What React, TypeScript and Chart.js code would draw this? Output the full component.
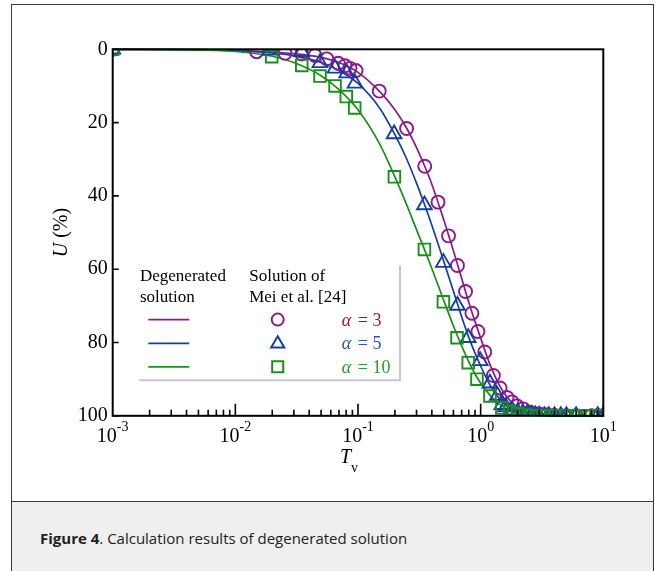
import React, { useEffect, useRef } from "react";
import { Chart, registerables } from "chart.js";

Chart.register(...registerables);

// ---- Degenerated solution (curves) ----
const lineT = [0.001, 0.002, 0.005, 0.01, 0.02, 0.03, 0.05, 0.07, 0.1, 0.15, 0.2, 0.25, 0.3, 0.35, 0.4, 0.5, 0.6, 0.7, 0.8, 0.9, 1.0, 1.2, 1.4, 1.6, 1.8, 2.0, 2.5, 3, 4, 5, 10];
const lineU3 = [0, 0, 0.1, 0.3, 0.8, 1.2, 2.2, 3.6, 6.3, 11.5, 16.5, 21.6, 26.8, 31.9, 36.8, 46.5, 55, 62.5, 69, 74.3, 78.8, 86.3, 91.2, 94.4, 96.4, 97.7, 99.2, 99.7, 100, 100, 100];
const lineU5 = [0, 0, 0.1, 0.4, 1.0, 1.8, 3.6, 5.8, 9.3, 16, 23.3, 30, 36.5, 42.5, 48, 57.8, 66, 73, 78.6, 82.9, 86.4, 91.8, 95.1, 97.1, 98.3, 99, 99.7, 99.9, 100, 100, 100];
const lineU10 = [0, 0.05, 0.2, 0.6, 1.9, 3.6, 7.2, 11, 16.5, 25.8, 34.8, 42.5, 49.2, 54.8, 59.8, 68.5, 75.5, 80.9, 85.2, 88.6, 91.1, 94.5, 96.7, 98, 98.8, 99.2, 99.7, 99.9, 100, 100, 100];

// ---- Solution of Mei et al. [24] (markers) ----
const circT = [0.001, 0.0149, 0.0254, 0.0348, 0.0446, 0.0556, 0.069, 0.0783, 0.0861, 0.0964, 0.149, 0.249, 0.35, 0.449, 0.547, 0.647, 0.753, 0.849, 0.95, 1.08, 1.27, 1.44, 1.64, 1.8, 1.98, 2.22, 2.53, 3.0, 3.5, 4.0, 5.0, 6.0, 8.0, 9.0, 10];
const circU = [0, 0.65, 1.1, 1.3, 1.7, 2.6, 3.8, 4.5, 5.2, 5.8, 11.4, 21.6, 31.9, 41.7, 50.9, 59, 66.1, 72, 77, 82.6, 89, 92.4, 95, 96.2, 97.3, 98.1, 99, 99.5, 99.7, 99.9, 100, 100, 100, 100, 100];

const triT = [0.001, 0.0192, 0.0348, 0.049, 0.065, 0.081, 0.0946, 0.197, 0.348, 0.497, 0.647, 0.792, 0.99, 1.19, 1.37, 1.49, 1.6, 1.8, 2.0, 2.2, 2.4, 2.6, 2.8, 3.0, 3.3, 3.6, 4.0, 4.5, 5.0, 6.0, 9.0, 10];
const triU = [0, 0.3, 0.65, 3.7, 5.2, 6.5, 9.3, 23.1, 42.5, 58.2, 69.9, 78.7, 85, 91.1, 94.5, 97, 97.6, 98.5, 99, 99.3, 99.5, 99.7, 99.8, 99.9, 100, 100, 100, 100, 100, 100, 100, 100];

const sqT = [0.001, 0.0198, 0.0348, 0.049, 0.065, 0.0803, 0.094, 0.198, 0.348, 0.497, 0.642, 0.792, 0.933, 1.19, 1.49, 1.73, 2.0, 2.3, 2.6, 3.0, 3.5, 4.0, 4.5, 5.0, 6.0, 7.0, 8.0, 9.0, 10];
const sqU = [0, 2.0, 4.4, 7.3, 10, 12.9, 16, 34.8, 54.6, 68.9, 78.7, 85.5, 90, 94.6, 97.9, 98.9, 99.4, 99.7, 99.9, 100, 100, 100, 100, 100, 100, 100, 100, 100, 100];

// ---- Axes ----
const xDecades = [0.001, 0.01, 0.1, 1, 10];
const xDecadeExp = ["-3", "-2", "-1", "0", "1"];
const xMinorMult = [2, 3, 4, 5, 6, 7, 8, 9];
const yTicks = [0, 20, 40, 60, 80, 100];

// ---- Legend text ----
const legendLeftHeader = ["Degenerated", "solution"];
const legendMidHeader = ["Solution of", "Mei et al. [24]"];
const alphaValues = ["3", "5", "10"];

const PURPLE = "#8c1a8c";
const BLUE = "#163ea0";
const GREEN = "#18901a";
const SERIES_COLORS = [PURPLE, BLUE, GREEN];
const ALPHA_COLORS = ["#9a1c2c", "#2a52b0", "#2a9a2a"];
const SERIF = '"Liberation Serif", "Times New Roman", serif';

const toXY = (xs: number[], ys: number[]) => xs.map((v, i) => ({ x: v, y: ys[i] }));

function drawMarker(ctx: CanvasRenderingContext2D, style: string, x: number, y: number, r: number) {
  ctx.beginPath();
  if (style === "circle") {
    ctx.arc(x, y, r, 0, Math.PI * 2);
  } else if (style === "triangle") {
    const h = r * 1.5;
    const s = r * Math.sqrt(3);
    ctx.moveTo(x, y - r);
    ctx.lineTo(x + s / 2, y - r + h);
    ctx.lineTo(x - s / 2, y - r + h);
    ctx.closePath();
  } else {
    const a = r * Math.SQRT1_2;
    ctx.rect(x - a, y - a, 2 * a, 2 * a);
  }
  ctx.stroke();
}

const decorPlugin = {
  id: "decor",
  afterDraw(chart: any) {
    const { ctx, chartArea: ca } = chart;
    const x = chart.scales.x;
    const y = chart.scales.y;
    ctx.save();

    // plot frame
    ctx.strokeStyle = "#000";
    ctx.lineWidth = 2;
    ctx.strokeRect(ca.left, ca.top, ca.right - ca.left, ca.bottom - ca.top);

    // x ticks (inward)
    ctx.lineWidth = 1.6;
    ctx.beginPath();
    xDecades.forEach((d, i) => {
      const px = x.getPixelForValue(d);
      if (i > 0 && i < xDecades.length - 1) {
        ctx.moveTo(px, ca.bottom);
        ctx.lineTo(px, ca.bottom - 12);
      }
      if (i < xDecades.length - 1) {
        xMinorMult.forEach((m) => {
          const pm = x.getPixelForValue(d * m);
          ctx.moveTo(pm, ca.bottom);
          ctx.lineTo(pm, ca.bottom - 6);
        });
      }
    });
    // y ticks (inward)
    yTicks.forEach((v) => {
      const py = y.getPixelForValue(v);
      ctx.moveTo(ca.left, py);
      ctx.lineTo(ca.left + 6, py);
    });
    ctx.stroke();

    // x tick labels 10^n
    ctx.fillStyle = "#000";
    ctx.textBaseline = "alphabetic";
    ctx.textAlign = "left";
    xDecades.forEach((d, i) => {
      const px = x.getPixelForValue(d);
      ctx.font = `20px ${SERIF}`;
      const w1 = ctx.measureText("10").width;
      ctx.font = `14px ${SERIF}`;
      const w2 = ctx.measureText(xDecadeExp[i]).width;
      const start = px - (w1 + w2) / 2;
      ctx.font = `20px ${SERIF}`;
      ctx.fillText("10", start, ca.bottom + 26.5);
      ctx.font = `14px ${SERIF}`;
      ctx.fillText(xDecadeExp[i], start + w1, ca.bottom + 15.5);
    });

    // x title T_v
    {
      ctx.font = `italic 20px ${SERIF}`;
      const wT = ctx.measureText("T").width;
      ctx.font = `14px ${SERIF}`;
      const wv = ctx.measureText("v").width;
      const cx = (ca.left + ca.right) / 2 - 9;
      const start = cx - (wT + wv) / 2;
      ctx.font = `italic 20px ${SERIF}`;
      ctx.fillText("T", start, ca.bottom + 47);
      ctx.font = `14px ${SERIF}`;
      ctx.fillText("v", start + wT, ca.bottom + 56);
    }

    // y title U (%)
    {
      ctx.save();
      ctx.translate(ca.left - 45.5, (ca.top + ca.bottom) / 2);
      ctx.rotate(-Math.PI / 2);
      ctx.font = `italic 20px ${SERIF}`;
      const wU = ctx.measureText("U").width;
      ctx.font = `20px ${SERIF}`;
      const wp = ctx.measureText(" (%)").width;
      const start = -(wU + wp) / 2;
      ctx.font = `italic 20px ${SERIF}`;
      ctx.fillText("U", start, 0);
      ctx.font = `20px ${SERIF}`;
      ctx.fillText(" (%)", start + wU, 0);
      ctx.restore();
    }

    // legend
    const L = ca.left;
    const T = ca.top;
    ctx.strokeStyle = "#c9c9c9";
    ctx.lineWidth = 2;
    ctx.beginPath();
    ctx.moveTo(L + 287.3, T + 216);
    ctx.lineTo(L + 287.3, T + 331);
    ctx.lineTo(L + 26.5, T + 331);
    ctx.stroke();

    ctx.fillStyle = "#000";
    ctx.font = `17px ${SERIF}`;
    legendLeftHeader.forEach((t, i) => ctx.fillText(t, L + 27.3, T + 231.5 + i * 21));
    legendMidHeader.forEach((t, i) => ctx.fillText(t, L + 136.5, T + 231.5 + i * 21));

    const rowsY = [270.3, 294, 317.5];
    const styles = ["circle", "triangle", "rect"];
    const radii = [6, 7.6, 7.8];
    rowsY.forEach((ry, i) => {
      const yy = T + ry;
      ctx.strokeStyle = SERIES_COLORS[i];
      ctx.lineWidth = 1.8;
      ctx.beginPath();
      ctx.moveTo(L + 35.6, yy);
      ctx.lineTo(L + 76.5, yy);
      ctx.stroke();
      ctx.lineWidth = 2;
      drawMarker(ctx, styles[i], L + 165, yy + (i === 1 ? 0.5 : 0), radii[i]);

      ctx.fillStyle = ALPHA_COLORS[i];
      ctx.font = `italic 18px ${SERIF}`;
      const wa = ctx.measureText("\u03b1").width;
      ctx.fillText("\u03b1", L + 229, yy + 6);
      ctx.font = `18px ${SERIF}`;
      ctx.fillText("\u2009= " + alphaValues[i], L + 229 + wa + 3, yy + 6);
    });

    ctx.restore();
  },
};

const App = () => {
  const ref = useRef<HTMLCanvasElement>(null);

  useEffect(() => {
    const canvas = ref.current;
    if (!canvas) return;
    const pointCommon = {
      showLine: false,
      backgroundColor: "rgba(0,0,0,0)",
      pointBackgroundColor: "rgba(0,0,0,0)",
      pointBorderWidth: 1.9,
      clip: 0,
    };
    const lineCommon = {
      showLine: true,
      pointRadius: 0,
      borderWidth: 1.7,
      cubicInterpolationMode: "monotone" as const,
      clip: 1,
    };
    const chart = new Chart(canvas, {
      type: "scatter",
      data: {
        datasets: [
          { ...pointCommon, label: "α=10 Mei", data: toXY(sqT, sqU), pointStyle: "rect", pointRadius: 8.2, borderColor: GREEN, pointBorderColor: GREEN },
          { ...pointCommon, label: "α=5 Mei", data: toXY(triT, triU), pointStyle: "triangle", pointRadius: 8.5, borderColor: BLUE, pointBorderColor: BLUE },
          { ...pointCommon, label: "α=3 Mei", data: toXY(circT, circU), pointStyle: "circle", pointRadius: 6.5, borderColor: PURPLE, pointBorderColor: PURPLE },
          { ...lineCommon, label: "α=10", data: toXY(lineT, lineU10), borderColor: GREEN },
          { ...lineCommon, label: "α=5", data: toXY(lineT, lineU5), borderColor: BLUE },
          { ...lineCommon, label: "α=3", data: toXY(lineT, lineU3), borderColor: PURPLE },
        ] as any,
      },
      options: {
        responsive: false,
        animation: false,
        events: [],
        layout: { padding: { left: 0, top: 49.3, right: 52.7, bottom: 24.2 } },
        plugins: { legend: { display: false }, tooltip: { enabled: false }, title: { display: false } },
        scales: {
          x: {
            type: "logarithmic",
            min: 0.001,
            max: 10,
            ticks: { display: false },
            grid: { display: false, drawTicks: false },
            border: { display: false },
            afterFit: (s: any) => {
              s.height = 60;
            },
          },
          y: {
            type: "linear",
            reverse: true,
            min: 0,
            max: 100,
            afterBuildTicks: (s: any) => {
              s.ticks = yTicks.map((v) => ({ value: v }));
            },
            ticks: {
              color: "#000",
              padding: 5,
              font: { family: SERIF, size: 20 },
            },
            grid: { display: false, drawTicks: false },
            border: { display: false },
            afterFit: (s: any) => {
              s.width = 112.7;
            },
          },
        },
      },
      plugins: [decorPlugin],
    });
    return () => chart.destroy();
  }, []);

  return (
    <div style={{ position: "fixed", left: 0, top: 0, width: 656, height: 571, background: "#fff", overflow: "hidden" }}>
      <div
        style={{
          position: "absolute",
          left: 11,
          top: 4,
          width: 643,
          height: 640,
          border: "1.5px solid #3a3a3a",
          boxSizing: "border-box",
        }}
      />
      <div
        style={{
          position: "absolute",
          left: 11,
          top: 501,
          width: 643,
          height: 140,
          background: "#efefef",
          border: "1.5px solid #3a3a3a",
          boxSizing: "border-box",
        }}
      />
      <div
        style={{
          position: "absolute",
          left: 40,
          top: 527,
          lineHeight: "22px",
          fontFamily: '"Open Sans", "Noto Sans", sans-serif',
          fontSize: 15,
          color: "#222",
          whiteSpace: "nowrap",
        }}
      >
        <b>Figure 4</b>. Calculation results of degenerated solution
      </div>
      <canvas ref={ref} width={656} height={500} style={{ position: "absolute", left: 0, top: 0, width: 656, height: 500 }} />
    </div>
  );
};

export default App;
